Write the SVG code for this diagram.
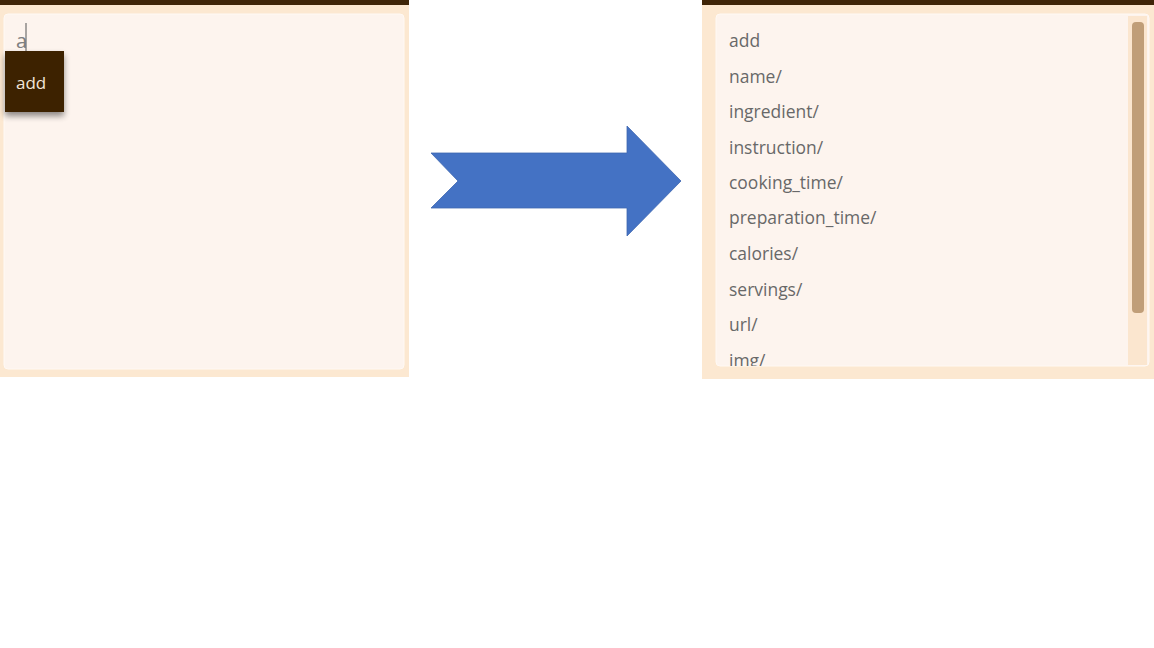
<svg xmlns="http://www.w3.org/2000/svg" width="1154" height="648" viewBox="0 0 1154 648">
<defs>
<style>
.bar{fill:#3f2508}
.outer{fill:#fce8d1}
.inner{fill:#fdf4ee;stroke:#fff9f4;stroke-width:1}
.item{font-family:"Open Sans","Liberation Sans",sans-serif;font-size:19px;fill:#686868}
</style>
<filter id="sh" x="-30%" y="-30%" width="160%" height="170%">
<feGaussianBlur in="SourceAlpha" stdDeviation="3"/>
<feOffset dx="0" dy="4"/>
<feComponentTransfer><feFuncA type="linear" slope="0.45"/></feComponentTransfer>
<feMerge><feMergeNode/><feMergeNode in="SourceGraphic"/></feMerge>
</filter>
<clipPath id="listclip"><rect x="716" y="14" width="412" height="352"/></clipPath>
</defs>
<rect width="1154" height="648" fill="#ffffff"/>
<g id="left-panel">
<rect class="outer" x="0" y="4" width="409" height="373"/>
<rect class="bar" x="0" y="0" width="409" height="5"/>
<rect class="inner" x="4" y="14" width="400" height="355" rx="4"/>
<text x="16" y="48" class="item" style="font-size:20px;fill:#808080">a</text>
<line x1="26" y1="23" x2="26" y2="51" stroke="#555" stroke-width="1"/>
<g id="dropdown" filter="url(#sh)">
<rect x="5" y="51" width="59" height="61" fill="#3d2205"/>
</g>
<text x="16" y="89" style="font-family:'Open Sans','Liberation Sans',sans-serif;font-size:17px;fill:#f2e7da">add</text>
</g>
<g id="arrow">
<polygon points="431,153 627,153 627,126 681,181 627,236 627,208 431,208 458,181" fill="#4472c4" stroke="#3f67b0" stroke-width="0.8"/>
</g>
<g id="right-panel">
<rect class="outer" x="702" y="4" width="452" height="375"/>
<rect class="bar" x="702" y="0" width="452" height="5"/>
<rect class="inner" x="716" y="14" width="433" height="352" rx="4"/>
<rect x="1128" y="16" width="19" height="349" fill="#fbe6cf"/>
<rect x="1132" y="22" width="12" height="291" rx="4" fill="#c09e78"/>
<g clip-path="url(#listclip)">
<g transform="translate(729,0) scale(0.92,1) translate(-729,0)">
<text class="item" x="729" y="47">add</text>
<text class="item" x="729" y="83">name/</text>
<text class="item" x="729" y="118">ingredient/</text>
<text class="item" x="729" y="154">instruction/</text>
<text class="item" x="729" y="189">cooking_time/</text>
<text class="item" x="729" y="224">preparation_time/</text>
<text class="item" x="729" y="260">calories/</text>
<text class="item" x="729" y="296">servings/</text>
<text class="item" x="729" y="331">url/</text>
<text class="item" x="729" y="367">img/</text>
</g>
</g>
</g>
</svg>
